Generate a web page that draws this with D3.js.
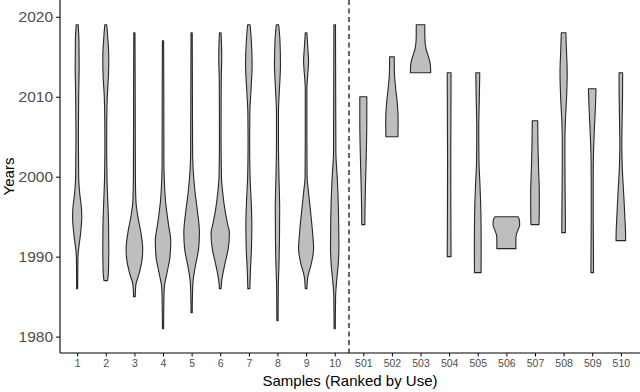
<!DOCTYPE html>
<html>
<head>
<meta charset="utf-8">
<script src="https://cdn.jsdelivr.net/npm/d3@7"></script>
<style>
body { margin: 0; background: #fff; }
svg { display: block; font-family: "Liberation Sans", Arial, sans-serif; }
</style>
</head>
<body>
<svg width="640" height="392"></svg>
<script>
// samples, in the order they are plotted
var samples = ["1", "2", "3", "4", "5", "6", "7", "8", "9", "10",
	"501", "502", "503", "504", "505", "506", "507", "508", "509", "510"];

var yearTicks = [1980, 1990, 2000, 2010, 2020];

// violin outlines: [year, relative density]
var density1 = [[2019, 1.0], [2017, 1.8], [2014, 2.0], [2010, 1.5], [2005, 1.2], [2000, 1.5], [1998, 2.5], [1996, 4.3], [1995, 4.6], [1993, 3.5], [1991, 1.5], [1990, 0.8], [1988, 0.6], [1986, 0.5]];
var density2 = [[2019, 1.0], [2017, 2.2], [2015, 3.0], [2013, 2.8], [2010, 1.5], [2007, 1.0], [2004, 0.9], [2000, 1.2], [1997, 2.0], [1994, 2.8], [1991, 3.0], [1988, 2.6], [1987, 1.8]];
var density3 = [[2018, 0.6], [2010, 0.8], [2000, 1.0], [1997, 1.5], [1995, 3.5], [1993, 6.5], [1991, 8.3], [1990, 8.0], [1988, 5.0], [1986.5, 1.5], [1985, 0.8]];
var density4 = [[2017, 0.6], [2010, 0.8], [2002, 0.9], [2000, 1.2], [1997, 2.5], [1994, 5.5], [1992, 7.7], [1990, 7.0], [1988, 4.0], [1986, 1.2], [1984, 0.8], [1981, 0.6]];
var density5 = [[2018, 0.6], [2010, 0.8], [2003, 1.0], [2001, 1.5], [1998, 3.5], [1996, 5.5], [1993, 7.8], [1991, 7.0], [1989, 4.0], [1987, 1.5], [1985, 0.8], [1983, 0.6]];
var density6 = [[2018, 0.8], [2015, 1.5], [2012, 1.0], [2005, 0.8], [2000, 1.2], [1998, 2.5], [1996, 4.5], [1994, 7.5], [1993, 9.2], [1991, 8.0], [1989, 4.5], [1987, 1.5], [1986, 0.8]];
var density7 = [[2019, 1.2], [2017, 2.5], [2014, 3.3], [2011, 2.2], [2008, 1.0], [2004, 0.8], [2000, 1.2], [1997, 2.3], [1994, 3.0], [1991, 2.6], [1988, 1.5], [1986, 1.0]];
var density8 = [[2019, 1.2], [2017, 2.5], [2014, 3.0], [2011, 2.0], [2008, 1.0], [2004, 1.0], [2000, 1.5], [1996, 2.2], [1992, 2.0], [1989, 1.5], [1986, 0.8], [1982, 0.6]];
var density9 = [[2018, 0.8], [2016, 1.8], [2014.5, 2.5], [2012.5, 1.5], [2011, 0.8], [2005, 0.8], [2000, 1.0], [1998, 2.5], [1995, 5.0], [1993, 6.5], [1991, 7.5], [1989, 5.0], [1987.5, 1.8], [1986, 0.8]];
var density10 = [[2019, 0.8], [2010, 1.0], [2003, 1.2], [2000, 2.5], [1997, 3.5], [1994, 4.0], [1991, 4.2], [1989, 3.5], [1987, 2.0], [1985, 0.9], [1981, 0.6]];
var density501 = [[2010, 3.5], [2007, 3.5], [2004, 3.2], [2001, 2.6], [1998, 2.0], [1996, 1.7], [1994, 1.5]];
var density502 = [[2015, 2.3], [2013, 2.5], [2011, 3.8], [2009, 5.5], [2007, 6.2], [2005, 6.0]];
var density503 = [[2019, 4.3], [2017.5, 4.3], [2016, 5.5], [2015, 8.0], [2014, 9.8], [2013, 10.2]];
var density504 = [[2013, 1.9], [2008, 1.8], [2002, 1.6], [1996, 1.7], [1990, 1.9]];
var density505 = [[2013, 2.0], [2010, 1.6], [2006, 1.0], [2002, 1.2], [1999, 2.2], [1995, 3.2], [1991, 3.4], [1988, 3.3]];
var density506 = [[1995, 11.5], [1994.6, 13.0], [1994, 13.3], [1993.3, 11.5], [1992.6, 9.7], [1992, 9.5], [1991, 9.5]];
var density507 = [[2007, 2.7], [2004, 3.0], [2001, 3.6], [1998, 4.3], [1996, 4.3], [1994, 4.0]];
var density508 = [[2018, 2.3], [2016, 2.8], [2013, 3.6], [2010, 3.0], [2007, 1.8], [2004, 1.3], [2000, 1.4], [1996, 1.7], [1993, 1.8]];
var density509 = [[2011, 3.8], [2009, 3.3], [2006, 2.2], [2003, 1.3], [2000, 1.0], [1995, 1.0], [1991, 1.2], [1988, 1.3]];
var density510 = [[2013, 1.8], [2010, 1.7], [2007, 1.3], [2004, 1.0], [2001, 1.5], [1998, 2.8], [1995, 4.0], [1993, 4.7], [1992, 4.8]];

var densities = [density1, density2, density3, density4, density5, density6, density7, density8, density9, density10,
	density501, density502, density503, density504, density505, density506, density507, density508, density509, density510];

var svg = d3.select("svg"),
	width = +svg.attr("width"),
	height = +svg.attr("height");

var margin = {top: 0, right: 2, bottom: 39, left: 60};

var x = d3.scalePoint()
	.domain(samples)
	.range([margin.left, width - margin.right])
	.padding(0.6);

var y = d3.scaleLinear()
	.domain([1977.95, 2022.1])
	.range([height - margin.bottom, margin.top]);

var maxDensity = d3.max(densities, function(d) { return d3.max(d, function(p) { return p[1]; }); });
var w = d3.scaleLinear()
	.domain([0, maxDensity])
	.range([0, x.step() * 0.465]);

// dashed separator between the top 10 and the others
var sep = (x("10") + x("501")) / 2;
svg.append("line")
	.attr("x1", sep).attr("x2", sep)
	.attr("y1", margin.top).attr("y2", height - margin.bottom)
	.attr("stroke", "#000")
	.attr("stroke-width", 1.2)
	.attr("stroke-dasharray", "5,3.5");

var g = svg.append("g");
samples.forEach(function(s, i) {
	var cx = x(s);
	var area = d3.area()
		.y(function(d) { return y(d[0]); })
		.x0(function(d) { return cx - w(d[1]); })
		.x1(function(d) { return cx + w(d[1]); })
		.curve(d3.curveMonotoneY);
	g.append("path")
		.datum(densities[i])
		.attr("d", area)
		.attr("fill", "#bebebe")
		.attr("stroke", "#262626")
		.attr("stroke-width", 1.1)
		.attr("stroke-linejoin", "round");
});

// axes
var xAxis = svg.append("g")
	.attr("transform", "translate(0," + (height - margin.bottom) + ")")
	.call(d3.axisBottom(x).tickSize(3.5).tickPadding(3));
xAxis.select(".domain").attr("d", "M" + margin.left + ",0H" + width);
xAxis.selectAll("text").attr("fill", "#4d4d4d").style("font-size", "10.5px");

var yAxis = svg.append("g")
	.attr("transform", "translate(" + margin.left + ",0)")
	.call(d3.axisLeft(y).tickValues(yearTicks).tickFormat(d3.format("d")).tickSize(4).tickPadding(3));
yAxis.select(".domain").attr("d", "M0," + margin.top + "V" + (height - margin.bottom));
yAxis.selectAll("text").attr("fill", "#4d4d4d").style("font-size", "15.5px");

svg.selectAll(".domain").attr("stroke", "#000").attr("stroke-width", 1.1);
svg.selectAll(".tick line").attr("stroke", "#000");

svg.append("text")
	.attr("x", (margin.left + width) / 2)
	.attr("y", 386)
	.attr("text-anchor", "middle")
	.style("font-size", "15px")
	.text("Samples (Ranked by Use)");

svg.append("text")
	.attr("transform", "translate(13.5," + ((height - margin.bottom) / 2) + ") rotate(-90)")
	.attr("text-anchor", "middle")
	.style("font-size", "15px")
	.text("Years");
</script>
</body>
</html>
